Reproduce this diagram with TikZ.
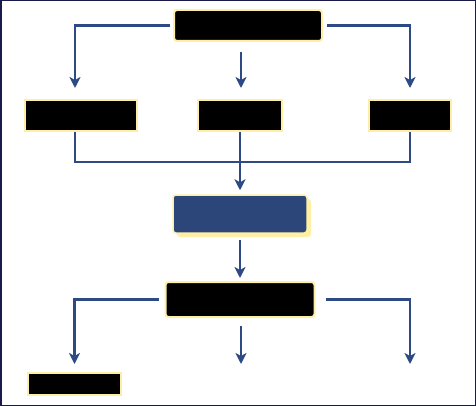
\documentclass[tikz,border=0pt]{standalone}
\usepackage{tikz}
\usetikzlibrary{arrows.meta,positioning,shadows}
\definecolor{framenavy}{HTML}{1A1A4A}
\definecolor{flowblue}{HTML}{2E4A85}
\definecolor{boxblue}{HTML}{2C4679}
\definecolor{paleyellow}{HTML}{FFEFA6}

\begin{document}
\begin{tikzpicture}[x=1pt,y=-1pt,
  blackbox/.style={draw=paleyellow, fill=black, line width=2pt, inner sep=0pt},
  roundbox/.style={blackbox, rounded corners=3pt},
  bluebox/.style={draw=paleyellow, fill=boxblue, line width=1.5pt, rounded corners=3pt, inner sep=0pt,
    drop shadow={shadow xshift=4pt, shadow yshift=-4pt, fill=paleyellow, opacity=1}},
  flow/.style={draw=flowblue, line width=2.3pt},
  arrow/.style={flow, -{Stealth[length=11pt,width=11pt,inset=3pt]}}]
% Canvas and frame
\useasboundingbox (0,0) rectangle (476,406);
\draw[framenavy, line width=1.5pt] (0.75,0.75) rectangle (475.25,405.25);

% Top box
\node[roundbox, minimum width=148pt, minimum height=31pt] (top) at (248,25.5) {};

% Second row
\node[blackbox, minimum width=112pt, minimum height=31pt] (left) at (81,115.5) {};
\node[blackbox, minimum width=84pt, minimum height=31pt] (mid) at (240,115.5) {};
\node[blackbox, minimum width=82pt, minimum height=31pt] (right) at (410,115.5) {};

% Merge box
\node[bluebox, minimum width=134pt, minimum height=38pt] (merge) at (240,214) {};

% Split box
\node[roundbox, minimum width=149pt, minimum height=35pt] (split) at (240,299.5) {};

% Bottom box
\node[blackbox, minimum width=93pt, minimum height=22pt] (out) at (74.5,384) {};
\coordinate (join) at (240,162);
\coordinate (endmid) at (241,364);
\coordinate (endright) at (410,364);

% Top connectors
\draw[arrow, shorten <=3pt, shorten >=11pt] (top.west) -| ([xshift=-6pt]left.north);
\draw[arrow, shorten <=10pt, shorten >=11pt] ([xshift=-7pt]top.south) -- ([xshift=1pt]mid.north);
\draw[arrow, shorten <=4pt, shorten >=11pt] (top.east) -| (right.north);

% Join
\draw[flow] ([xshift=-6pt]left.south) |- (join) -| (right.south);
\draw[arrow, shorten >=4pt] (mid.south) -- (merge.north);
\draw[arrow, shorten <=6pt, shorten >=3pt] (merge.south) -- (split.north);

% Bottom connectors
\draw[arrow, shorten <=6pt, shorten >=8pt] (split.west) -| (out.north);
\draw[arrow, shorten <=8pt] ([xshift=1pt]split.south) -- (endmid);
\draw[arrow, shorten <=10pt] (split.east) -| (endright);
\end{tikzpicture}
\end{document}
